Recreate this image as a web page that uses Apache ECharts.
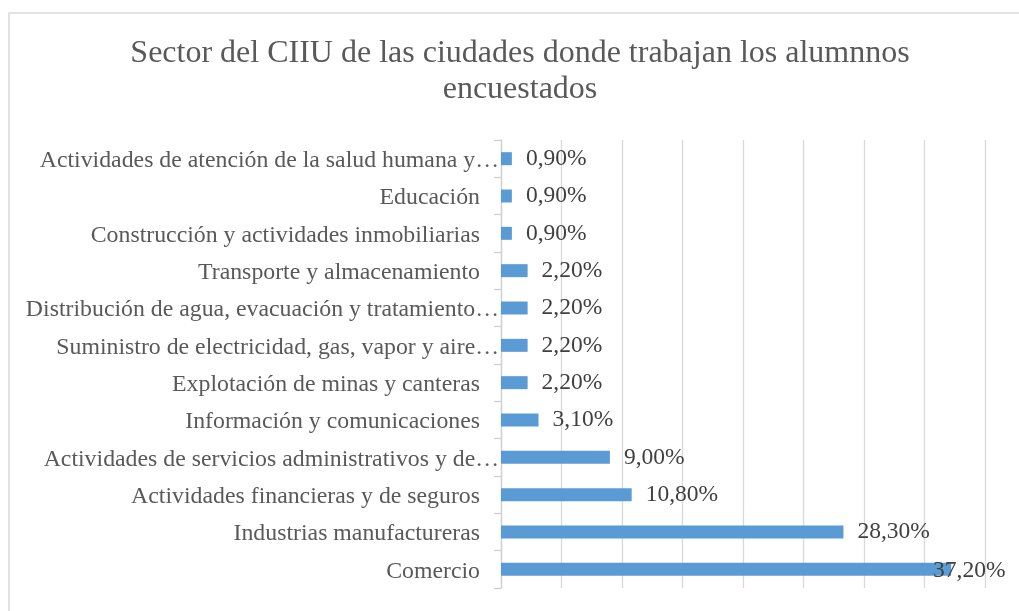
<!DOCTYPE html>
<html>
<head>
<meta charset="utf-8">
<script src="https://cdn.jsdelivr.net/npm/echarts@6/dist/echarts.min.js"></script>
<style>
html,body{margin:0;padding:0;background:#fff;}
#chart{width:1019px;height:611px;}
</style>
</head>
<body>
<div id="chart"></div>
<script>
// Data (bottom to top, as in the source chart)
const categories = [
  'Comercio',
  'Industrias manufactureras',
  'Actividades financieras y de seguros',
  'Actividades de servicios administrativos y de…',
  'Información y comunicaciones',
  'Explotación de minas y canteras',
  'Suministro de electricidad, gas, vapor y aire…',
  'Distribución de agua, evacuación y tratamiento…',
  'Transporte y almacenamiento',
  'Construcción y actividades inmobiliarias',
  'Educación',
  'Actividades de atención de la salud humana y…'
];
const values = [37.2, 28.3, 10.8, 9.0, 3.1, 2.2, 2.2, 2.2, 2.2, 0.9, 0.9, 0.9];
const titleText = 'Sector del CIIU de las ciudades donde trabajan los alumnnos\nencuestados';

const FONT = "'Liberation Serif', 'Times New Roman', serif";
const maxVal = Math.max.apply(null, values);

const chart = echarts.init(document.getElementById('chart'), null, {renderer: 'canvas'});
chart.setOption({
  animation: false,
  backgroundColor: '#ffffff',
  graphic: [{
    type: 'rect',
    shape: {x: 9, y: 13, width: 1200, height: 800},
    style: {fill: 'none', stroke: '#d9d9d9', lineWidth: 1.5},
    silent: true
  }],
  title: {
    text: titleText,
    left: 520,
    top: 36,
    padding: 0,
    textAlign: 'center',
    textStyle: {
      fontFamily: FONT,
      fontSize: 32,
      fontWeight: 'normal',
      color: '#595959',
      lineHeight: 36
    }
  },
  grid: {left: 501, right: 34, top: 140, bottom: 23, containLabel: false},
  xAxis: {
    type: 'value',
    min: 0,
    max: 40,
    interval: 5,
    axisLabel: {show: false},
    axisLine: {show: false},
    axisTick: {show: false},
    splitLine: {show: true, lineStyle: {color: '#d9d9d9', width: 1.3}}
  },
  yAxis: {
    type: 'category',
    data: categories,
    axisLine: {show: true, lineStyle: {color: '#d0d0d0', width: 1.3}},
    axisTick: {show: true, length: 7, lineStyle: {color: '#d0d0d0', width: 1.3}},
    axisLabel: {
      margin: 2,
      formatter: function (v) {
        return /…$/.test(v) ? '{n|' + v + '}' : '{n|' + v + '}{g|}';
      },
      rich: {
        n: {fontFamily: FONT, fontSize: 23.8, color: '#595959', padding: [4, 0, 0, 0]},
        g: {width: 19}
      }
    }
  },
  series: [{
    type: 'bar',
    barWidth: 13,
    itemStyle: {color: '#5b9bd5'},
    data: values.map(function (v) {
      const item = {value: v};
      if (v === maxVal) item.label = {offset: [-32, 1]};
      return item;
    }),
    label: {
      show: true,
      position: 'right',
      distance: 14,
      fontFamily: FONT,
      fontSize: 23.5,
      color: '#404040',
      formatter: function (p) {
        return p.value.toFixed(2).replace('.', ',') + '%';
      }
    }
  }]
});
</script>
</body>
</html>
